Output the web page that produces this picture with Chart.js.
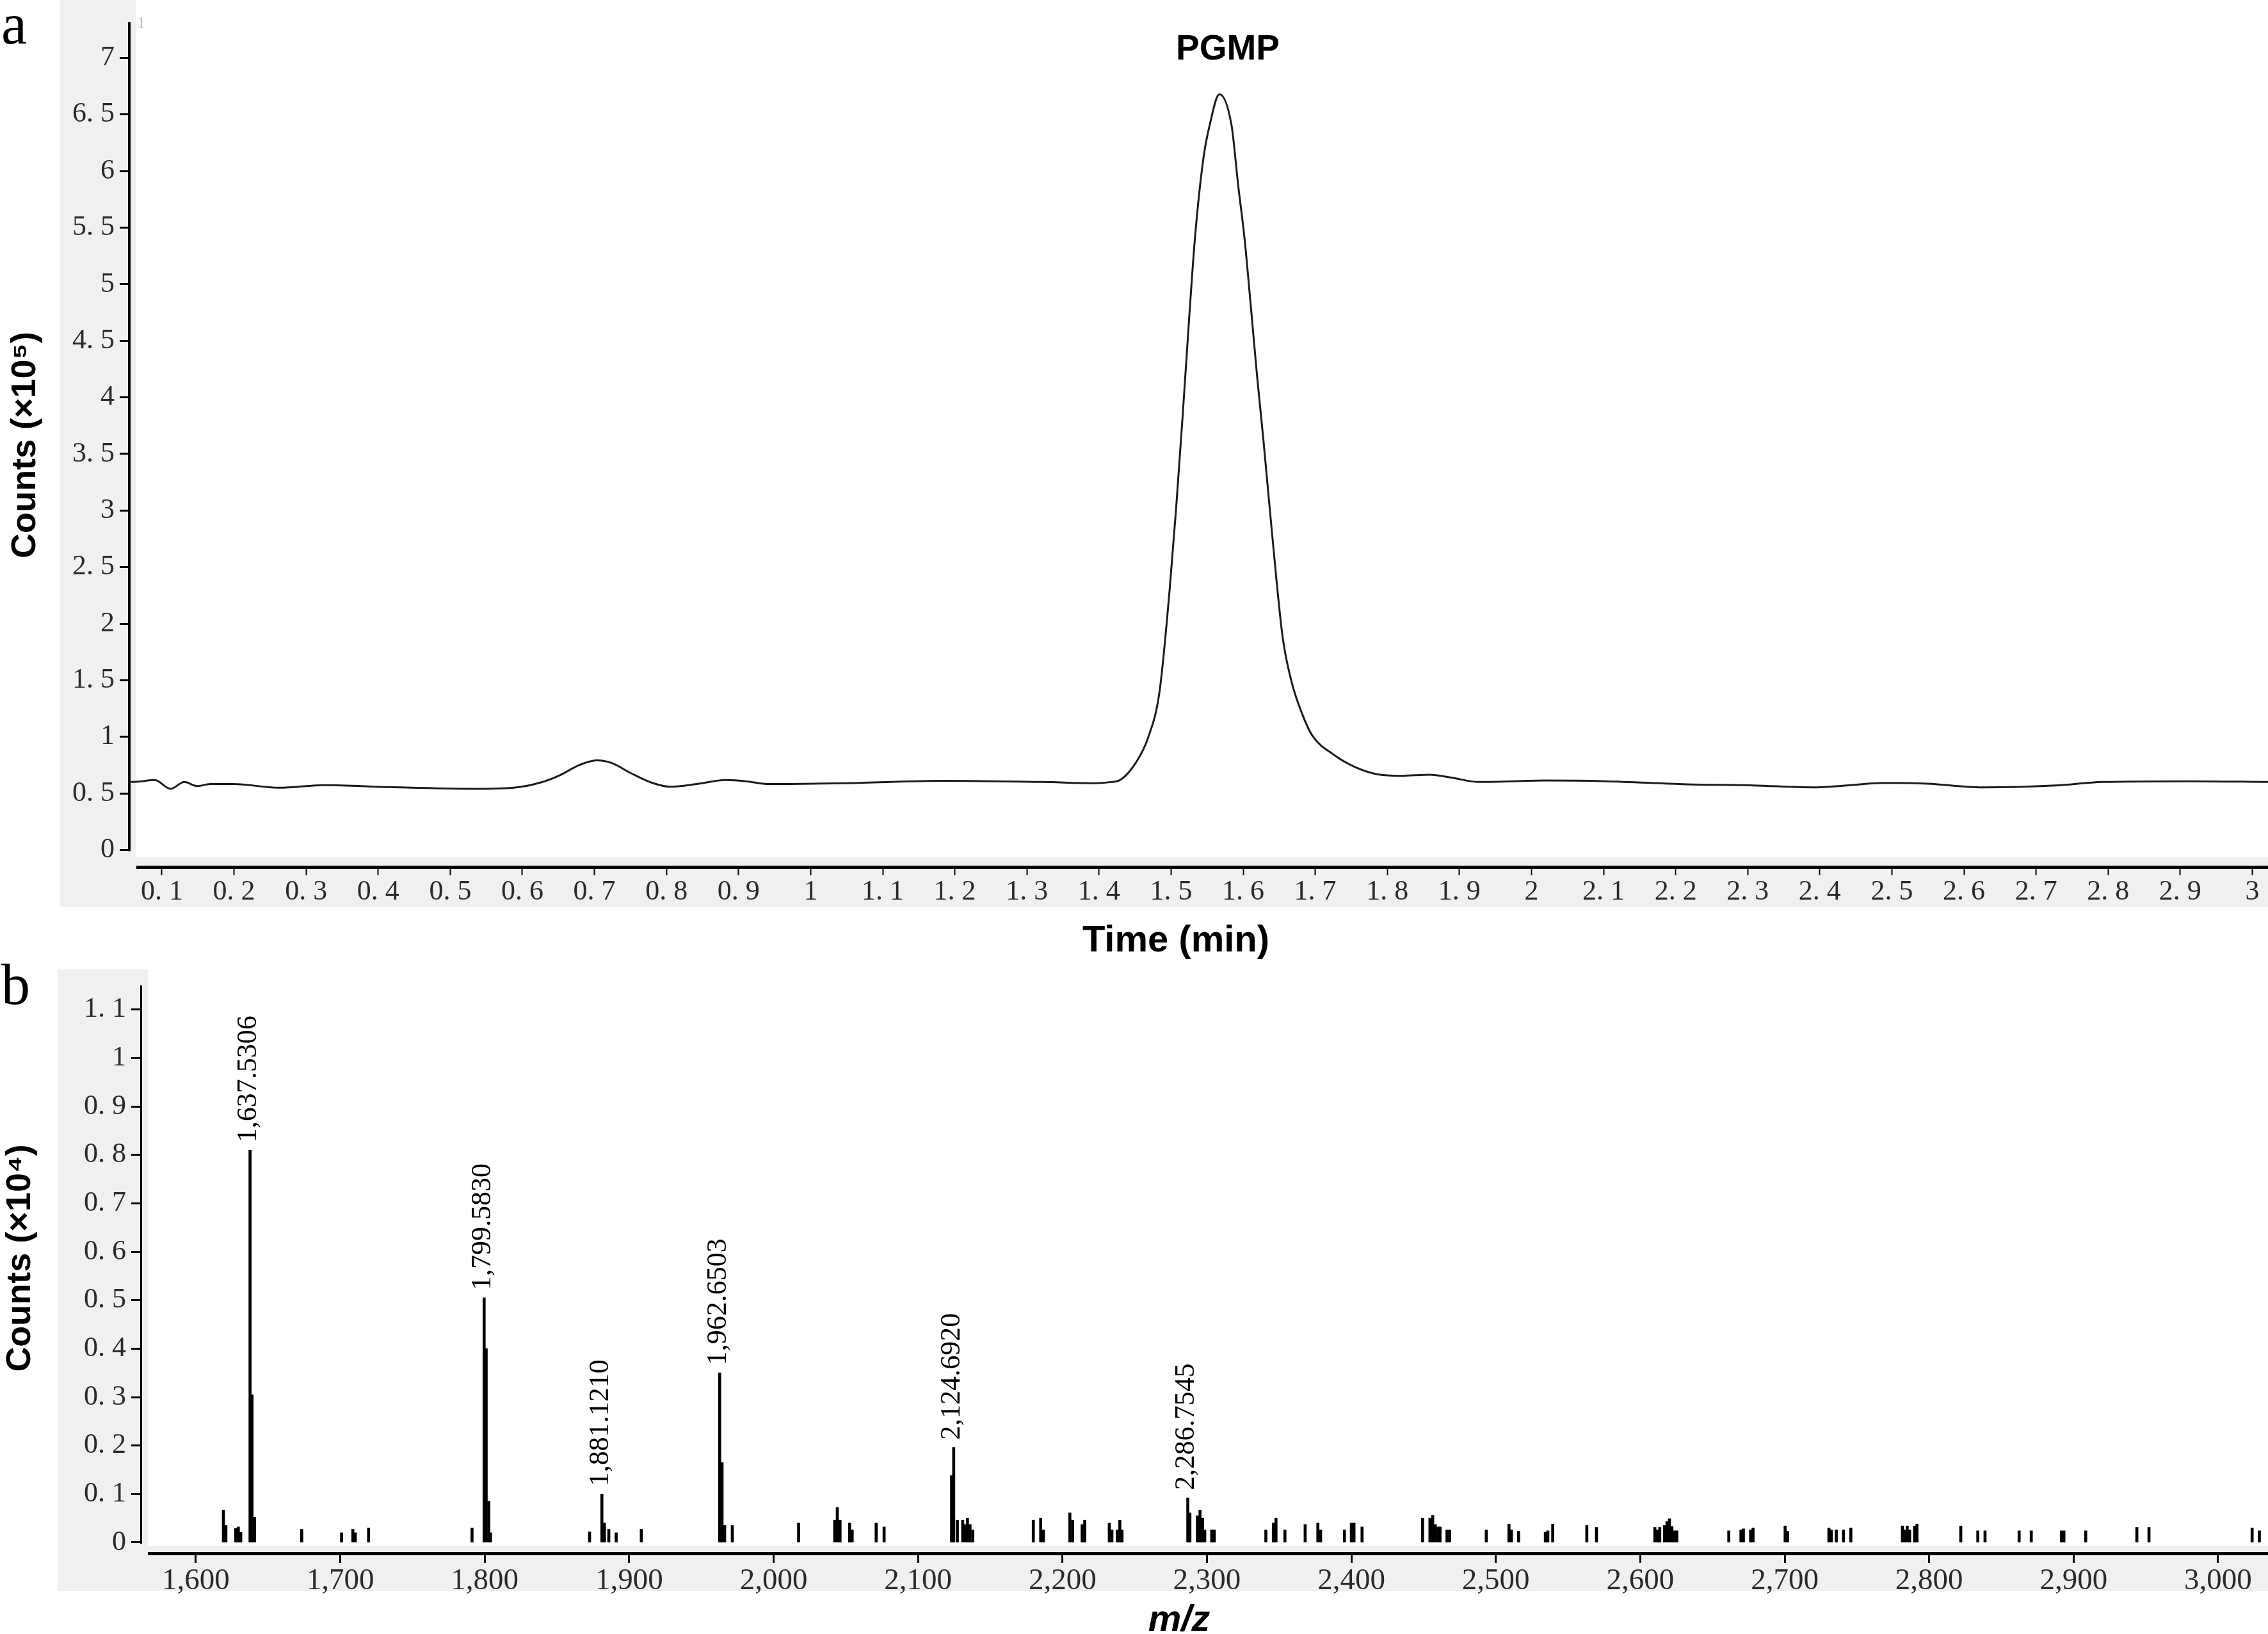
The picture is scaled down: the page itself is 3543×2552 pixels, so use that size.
<!DOCTYPE html>
<html>
<head>
<meta charset="utf-8">
<script src="https://cdn.jsdelivr.net/npm/chart.js@4.4.0/dist/chart.umd.min.js"></script>
<style>
  body { margin: 0; background: #fff; width: 3543px; height: 2552px; position: relative; overflow: hidden; }
  canvas { position: absolute; left: 0; }
  #chartA { top: 0; }
  #chartB { top: 1500px; }
</style>
</head>
<body>
<canvas id="chartA" width="3543" height="1500" style="width:3543px;height:1500px"></canvas>
<canvas id="chartB" width="3543" height="1052" style="width:3543px;height:1052px"></canvas>
<script>
// panel a: total ion chromatogram
const timeMin = [0.057, 0.067, 0.090, 0.112, 0.131, 0.149, 0.167, 0.199, 0.262, 0.326, 0.416, 0.534, 0.588,
  0.625, 0.652, 0.679, 0.703, 0.724, 0.751, 0.779, 0.806, 0.842, 0.882, 0.914, 0.941, 1.05, 1.186, 1.322,
  1.395, 1.417, 1.43, 1.451, 1.468, 1.484, 1.498, 1.507, 1.516, 1.525, 1.533, 1.545, 1.554, 1.567, 1.584,
  1.593, 1.602, 1.611, 1.619, 1.628, 1.637, 1.646, 1.655, 1.667, 1.682, 1.696, 1.726, 1.756, 1.785, 1.82,
  1.859, 1.888, 1.927, 2.019, 2.103, 2.215, 2.308, 2.391, 2.494, 2.55, 2.625, 2.727, 2.792, 2.913, 3.022];
const countsE5 = [0.60, 0.604, 0.617, 0.54, 0.60, 0.564, 0.582, 0.582, 0.55, 0.573, 0.555, 0.54, 0.55,
  0.595, 0.66, 0.75, 0.792, 0.768, 0.677, 0.595, 0.558, 0.582, 0.617, 0.604, 0.582, 0.59, 0.61, 0.60,
  0.59, 0.60, 0.62, 0.77, 0.99, 1.40, 2.30, 3.02, 3.83, 4.69, 5.40, 6.12, 6.42, 6.68, 6.40,
  5.88, 5.40, 4.78, 4.21, 3.63, 3.01, 2.40, 1.87, 1.49, 1.20, 1.01, 0.84, 0.73, 0.67, 0.655,
  0.664, 0.64, 0.60, 0.613, 0.607, 0.58, 0.57, 0.553, 0.592, 0.585, 0.553, 0.57, 0.60, 0.607, 0.60];

const xTicksA = [0.1, 0.2, 0.3, 0.4, 0.5, 0.6, 0.7, 0.8, 0.9, 1, 1.1, 1.2, 1.3, 1.4, 1.5, 1.6, 1.7, 1.8, 1.9,
  2, 2.1, 2.2, 2.3, 2.4, 2.5, 2.6, 2.7, 2.8, 2.9, 3];
const xTickLabelsA = ['0. 1', '0. 2', '0. 3', '0. 4', '0. 5', '0. 6', '0. 7', '0. 8', '0. 9', '1', '1. 1', '1. 2',
  '1. 3', '1. 4', '1. 5', '1. 6', '1. 7', '1. 8', '1. 9', '2', '2. 1', '2. 2', '2. 3', '2. 4', '2. 5', '2. 6',
  '2. 7', '2. 8', '2. 9', '3'];
const yTicksA = [0, 0.5, 1, 1.5, 2, 2.5, 3, 3.5, 4, 4.5, 5, 5.5, 6, 6.5, 7];
const yTickLabelsA = ['0', '0. 5', '1', '1. 5', '2', '2. 5', '3', '3. 5', '4', '4. 5', '5', '5. 5', '6', '6. 5', '7'];

// panel b: mass spectrum
const mzValues = [1619.1, 1620.8, 1627.6, 1629.4, 1631.1, 1637.5306, 1638.9, 1640.6, 1673.3, 1700.9, 1708.7,
  1710.4, 1719.6, 1791.2, 1799.583, 1801.0, 1802.8, 1804.0, 1872.6, 1881.121, 1882.9, 1885.9, 1891.0, 1908.4,
  1962.6503, 1964.3, 1966.1, 1971.4, 2017.3, 2042.3, 2044.1, 2046.0, 2052.6, 2054.4, 2071.0, 2076.5, 2123.2,
  2124.692, 2127.2, 2130.9, 2132.7, 2134.2, 2136.0, 2137.9, 2179.8, 2184.9, 2186.8, 2205.1, 2207.0, 2213.6,
  2215.4, 2232.4, 2234.2, 2237.9, 2239.7, 2241.2, 2286.7545, 2288.2, 2293.4, 2295.2, 2297.0, 2298.5, 2303.3,
  2305.1, 2340.8, 2346.0, 2347.8, 2354.0, 2368.0, 2376.8, 2378.7, 2395.2, 2400.0, 2401.8, 2407.4, 2449.3,
  2454.4, 2456.3, 2458.1, 2460.0, 2461.4, 2466.2, 2468.0, 2493.4, 2509.1, 2510.8, 2515.8, 2534.3, 2536.0,
  2539.4, 2563.0, 2569.7, 2610.1, 2611.8, 2613.5, 2616.8, 2618.5, 2620.2, 2621.9, 2623.6, 2625.3, 2661.3,
  2669.7, 2671.4, 2676.4, 2678.1, 2700.3, 2702.0, 2730.6, 2732.3, 2735.7, 2740.7, 2745.8, 2781.5, 2783.2,
  2784.8, 2786.5, 2789.9, 2791.6, 2821.9, 2833.7, 2838.7, 2862.3, 2870.7, 2891.6, 2893.3, 2908.4, 2943.8,
  2952.2, 3023.6, 3028.6];
const countsE4 = [0.067, 0.035, 0.029, 0.032, 0.021, 0.81, 0.305, 0.052, 0.027, 0.02, 0.027,
  0.02, 0.03, 0.03, 0.505, 0.40, 0.085, 0.02, 0.022, 0.10, 0.04, 0.027, 0.02, 0.027,
  0.35, 0.165, 0.035, 0.035, 0.04, 0.046, 0.072, 0.046, 0.04, 0.026, 0.04, 0.032, 0.138,
  0.196, 0.046, 0.046, 0.037, 0.05, 0.037, 0.026, 0.046, 0.05, 0.026, 0.061, 0.046, 0.037,
  0.046, 0.04, 0.026, 0.026, 0.046, 0.026, 0.092, 0.061, 0.055, 0.067, 0.05, 0.026, 0.026,
  0.026, 0.026, 0.04, 0.05, 0.026, 0.037, 0.04, 0.026, 0.026, 0.04, 0.04, 0.032, 0.05,
  0.05, 0.056, 0.037, 0.032, 0.032, 0.026, 0.026, 0.026, 0.038, 0.026, 0.023, 0.021, 0.024,
  0.038, 0.035, 0.031, 0.031, 0.026, 0.031, 0.035, 0.043, 0.049, 0.033, 0.024, 0.024, 0.024,
  0.026, 0.028, 0.026, 0.03, 0.034, 0.023, 0.03, 0.026, 0.026, 0.026, 0.03, 0.034, 0.026,
  0.034, 0.026, 0.034, 0.038, 0.034, 0.024, 0.024, 0.024, 0.024, 0.024, 0.024, 0.024, 0.031,
  0.031, 0.03, 0.024];
const labelledMz = [1637.5306, 1799.583, 1881.121, 1962.6503, 2124.692, 2286.7545];

const xTicksB = [1600, 1700, 1800, 1900, 2000, 2100, 2200, 2300, 2400, 2500, 2600, 2700, 2800, 2900, 3000];
const yTicksB = [0, 0.1, 0.2, 0.3, 0.4, 0.5, 0.6, 0.7, 0.8, 0.9, 1, 1.1];
const yTickLabelsB = ['0', '0. 1', '0. 2', '0. 3', '0. 4', '0. 5', '0. 6', '0. 7', '0. 8', '0. 9', '1', '1. 1'];

const SANS = '"Liberation Sans", Arial, sans-serif';
const SERIF = '"Liberation Serif", "Times New Roman", serif';
const tickFont = { family: SERIF, size: 44 };

function text(ctx, str, x, y, font, align, rotate) {
  ctx.save();
  ctx.font = font;
  ctx.fillStyle = '#000';
  ctx.textAlign = align || 'center';
  ctx.textBaseline = 'alphabetic';
  ctx.translate(x, y);
  if (rotate) ctx.rotate(rotate);
  ctx.fillText(str, 0, 0);
  ctx.restore();
}

// grey frame + white plot box, then axis lines and labels
function framePlugin(cfg) {
  return {
    id: 'frame' + cfg.name,
    beforeDraw(chart) {
      const { ctx, chartArea: a } = chart;
      ctx.save();
      ctx.fillStyle = '#f0f0f0';
      ctx.fillRect(cfg.greyLeft, cfg.greyTop, chart.width - cfg.greyLeft, a.bottom + cfg.greyBelow - cfg.greyTop);
      ctx.fillStyle = '#fff';
      ctx.fillRect(a.left + 9, cfg.greyTop, chart.width - a.left - 9, a.bottom - cfg.whiteGap - cfg.greyTop);
      ctx.restore();
    },
    afterDraw(chart) {
      const { ctx, chartArea: a } = chart;
      const y0 = chart.scales.y.getPixelForValue(0);
      ctx.save();
      ctx.fillStyle = '#000';
      ctx.fillRect(a.left - cfg.yAxisW, a.top, cfg.yAxisW, y0 - a.top + 2);
      ctx.fillRect(a.left + 9, a.bottom - 1, chart.width - a.left - 9, cfg.xAxisW);
      ctx.restore();
      cfg.texts(ctx, a);
    }
  };
}

function axisOpts(ticks, labels, fit, tickLen, tickW, font, pad) {
  return {
    type: 'linear',
    offset: false,
    afterBuildTicks: s => { s.ticks = ticks.map(v => ({ value: v })); },
    afterFit: fit,
    border: { display: false },
    grid: { offset: false, drawOnChartArea: false, drawTicks: true, tickLength: tickLen, tickWidth: tickW, tickColor: '#000' },
    ticks: {
      autoSkip: false, maxRotation: 0, color: '#2a2a2a', font: font, padding: pad,
      callback: (v, i) => labels ? labels[i] : v.toLocaleString('en-US')
    }
  };
}

const scaleAX = axisOpts(xTicksA, xTickLabelsA, s => { s.height = 147; }, 14, 2, tickFont, 0);
scaleAX.min = 0.0565; scaleAX.max = 3.0218;
const scaleAY = axisOpts(yTicksA, yTickLabelsA, s => { s.width = 204; }, 17, 3, tickFont, 8);
scaleAY.min = -0.145; scaleAY.max = 7.318;

new Chart(document.getElementById('chartA'), {
  type: 'line',
  data: {
    datasets: [{
      data: timeMin.map((t, i) => ({ x: t, y: countsE5[i] })),
      borderColor: '#1c1c1c',
      borderWidth: 3,
      pointRadius: 0,
      cubicInterpolationMode: 'monotone',
      fill: false
    }]
  },
  options: {
    responsive: false,
    animation: false,
    devicePixelRatio: 1,
    layout: { padding: { top: 16, left: 0, right: 0, bottom: 0 } },
    plugins: { legend: { display: false }, tooltip: { enabled: false } },
    scales: { x: scaleAX, y: scaleAY }
  },
  plugins: [framePlugin({
    name: 'A', greyLeft: 94, greyTop: 0, greyBelow: 63, whiteGap: 14, yAxisW: 4, xAxisW: 5,
    texts(ctx, a) {
      text(ctx, 'a', 2, 68, '90px ' + SERIF, 'left');
      text(ctx, 'PGMP', 1918, 93, 'bold 55px ' + SANS);
      text(ctx, 'Time (min)', 1837, 1486, 'bold 58px ' + SANS);
      text(ctx, 'Counts (×10⁵)', 55, 695, 'bold 54px ' + SANS, 'center', -Math.PI / 2);
      ctx.save();
      ctx.font = '26px ' + SERIF;
      ctx.fillStyle = '#9cc6e6';
      ctx.fillText('1', 214, 44);
      ctx.restore();
    }
  })]
});

const scaleBX = axisOpts(xTicksB, null, s => { s.height = 127; }, 16, 3, { family: SERIF, size: 47 }, 0);
scaleBX.min = 1562.8; scaleBX.max = 3034.6;
const scaleBY = axisOpts(yTicksB, yTickLabelsB, s => { s.width = 222; }, 17, 3, tickFont, 8);
scaleBY.min = -0.0212; scaleBY.max = 1.150;

const peakLabelPlugin = {
  id: 'peakLabels',
  afterDatasetsDraw(chart) {
    const { ctx } = chart;
    const bars = chart.getDatasetMeta(0).data;
    ctx.save();
    ctx.font = '44px ' + SERIF;
    ctx.fillStyle = '#000';
    ctx.textAlign = 'left';
    ctx.textBaseline = 'middle';
    labelledMz.forEach(mz => {
      const bar = bars[mzValues.indexOf(mz)];
      ctx.save();
      ctx.translate(bar.x - 2, bar.y - 12);
      ctx.rotate(-Math.PI / 2);
      ctx.fillText(mz.toLocaleString('en-US', { minimumFractionDigits: 4, maximumFractionDigits: 4 }), 0, 0);
      ctx.restore();
    });
    ctx.restore();
  }
};

new Chart(document.getElementById('chartB'), {
  type: 'bar',
  data: {
    datasets: [{
      data: mzValues.map((m, i) => ({ x: m, y: countsE4[i] })),
      backgroundColor: '#000',
      borderWidth: 0,
      barThickness: 4
    }]
  },
  options: {
    responsive: false,
    animation: false,
    devicePixelRatio: 1,
    layout: { padding: { top: 39, left: 0, right: 0, bottom: 0 } },
    plugins: { legend: { display: false }, tooltip: { enabled: false } },
    scales: { x: scaleBX, y: scaleBY }
  },
  plugins: [peakLabelPlugin, framePlugin({
    name: 'B', greyLeft: 90, greyTop: 14, greyBelow: 60, whiteGap: 10, yAxisW: 3, xAxisW: 5,
    texts(ctx, a) {
      text(ctx, 'b', 2, 68, '90px ' + SERIF, 'left');
      text(ctx, 'm/z', 1842, 1047, 'bold italic 58px ' + SANS);
      text(ctx, 'Counts (×10⁴)', 47, 465, 'bold 54px ' + SANS, 'center', -Math.PI / 2);
    }
  })]
});
</script>
</body>
</html>
